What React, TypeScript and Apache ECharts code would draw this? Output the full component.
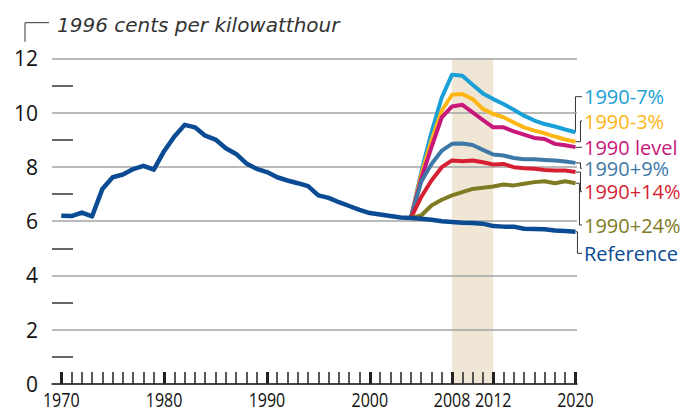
import React, { useEffect, useRef } from "react";
import * as echarts from "echarts";

// ---------- data ----------
const REF_YEARS = Array.from({ length: 51 }, (_, i) => 1970 + i);
const SCEN_YEARS = [2004, 2005, 2006, 2007, 2008, 2009, 2010, 2011, 2012, 2013, 2014, 2015, 2016, 2017, 2018, 2019, 2020];
const LABEL_YEARS = [1970, 1980, 1990, 2000, 2008, 2012, 2020];
const MINOR_Y = [1, 3, 5, 7, 9, 11];

const reference = [
  6.2, 6.19, 6.32, 6.18, 7.19, 7.62, 7.72, 7.92, 8.04, 7.9,
  8.58, 9.12, 9.55, 9.46, 9.15, 9.01, 8.69, 8.48, 8.13, 7.93,
  7.81, 7.62, 7.5, 7.4, 7.29, 6.95, 6.86, 6.7, 6.56, 6.42,
  6.3, 6.25, 6.19, 6.14, 6.12, 6.09, 6.05, 6.0, 5.97, 5.94,
  5.93, 5.91, 5.82, 5.8, 5.8, 5.72, 5.71, 5.7, 5.66, 5.64, 5.61,
];
const minus7 = [6.12, 7.8, 9.28, 10.56, 11.4, 11.36, 11.03, 10.71, 10.5, 10.32, 10.11, 9.89, 9.71, 9.58, 9.49, 9.38, 9.28];
const minus3 = [6.12, 7.7, 8.97, 10.07, 10.66, 10.69, 10.5, 10.14, 9.95, 9.83, 9.64, 9.46, 9.34, 9.24, 9.12, 9.01, 8.93];
const level = [6.12, 7.56, 8.73, 9.83, 10.23, 10.29, 10.01, 9.73, 9.46, 9.46, 9.31, 9.19, 9.07, 9.03, 8.85, 8.8, 8.73];
const plus9 = [6.12, 7.45, 8.11, 8.6, 8.85, 8.86, 8.81, 8.63, 8.46, 8.42, 8.33, 8.28, 8.28, 8.26, 8.24, 8.2, 8.15];
const plus14 = [6.12, 6.89, 7.5, 7.99, 8.24, 8.21, 8.24, 8.17, 8.09, 8.11, 7.99, 7.95, 7.93, 7.89, 7.87, 7.87, 7.81];
const plus24 = [6.12, 6.21, 6.58, 6.79, 6.95, 7.07, 7.19, 7.23, 7.28, 7.35, 7.32, 7.38, 7.44, 7.47, 7.4, 7.47, 7.4];

const SERIES_NAMES = ["1990-7%", "1990-3%", "1990 level", "1990+9%", "1990+14%", "1990+24%", "Reference"];
const SERIES_VALUES = [minus7, minus3, level, plus9, plus14, plus24, reference];
const SERIES_COLORS = ["#1A9FD7", "#FDB614", "#C8177A", "#3E78A6", "#D61F33", "#7E7B23", "#0A4B93"];

// label layout (pixels): label centre y, bracket x offset from line end
const LABEL_Y = [96.7, 121, 147.3, 168.3, 191.7, 225, 253.3];
const BRACKET_DX = [0, 5, 0, 5, 5, 4, 2];
const LABEL_X = 584;
const FONT = "'Open Sans', sans-serif";

export default function App() {
  const ref = useRef<HTMLDivElement>(null);
  useEffect(() => {
    if (!ref.current) return;
    const chart = echarts.init(ref.current, null, { renderer: "svg" });
    const xCommon = { type: "value", min: 1969.1, max: 2020.15, position: "bottom", splitLine: { show: false } };
    const series: any[] = [
      {
        type: "line",
        data: [],
        z: 1,
        silent: true,
        markArea: {
          silent: true,
          itemStyle: { color: "#EFE6D6" },
          data: [[{ xAxis: 2008 }, { xAxis: 2012 }]],
        },
      },
    ];
    SERIES_VALUES.forEach((vals, k) => {
      const years = k === 6 ? REF_YEARS : SCEN_YEARS;
      series.push({
        type: "line",
        name: SERIES_NAMES[k],
        data: vals.map((v, i) => [years[i], v]),
        symbol: "none",
        z: k === 6 ? 4 : 3,
        lineStyle: { color: SERIES_COLORS[k], width: k === 6 ? 4.5 : 4, join: "round" },
      });
    });
    chart.setOption({
      animation: false,
      grid: { left: 52, right: 111, top: 58.4, bottom: 27 },
      xAxis: [
        {
          ...xCommon,
          z: 5,
          axisLine: { show: true, lineStyle: { color: "#222", width: 1.5 } },
          axisTick: { show: true, inside: true, length: 12, customValues: REF_YEARS, lineStyle: { color: "#222", width: 1.5 } },
          axisLabel: { show: false },
        },
        {
          ...xCommon,
          z: 5,
          axisLine: { show: false },
          axisTick: { show: true, inside: true, length: 12, customValues: LABEL_YEARS, lineStyle: { color: "#222", width: 3 } },
          axisLabel: { show: false },
        },
      ],
      yAxis: [
        {
          type: "value", min: 0, max: 12, interval: 2, z: 2,
          axisLine: { show: false }, axisTick: { show: false },
          axisLabel: { fontSize: 21, color: "#111", margin: 14, fontFamily: FONT },
          splitLine: { show: true, lineStyle: { color: "#A3A3A3", width: 1.5 } },
        },
        {
          type: "value", min: 0, max: 12, position: "left", z: 2,
          axisLine: { show: false },
          axisTick: { show: true, inside: true, length: 21, customValues: MINOR_Y, lineStyle: { color: "#333", width: 1.5 } },
          axisLabel: { show: false }, splitLine: { show: false },
        },
      ],
      series,
    });

    const graphics: any[] = [
      { type: "polyline", shape: { points: [[25, 41.7], [25, 22.7], [49, 22.7]] }, style: { stroke: "#333", lineWidth: 1, fill: null } },
      { type: "text", x: 57, y: 25, style: { text: "1996 cents per kilowatthour", font: "italic 20px 'DejaVu Sans', sans-serif", fill: "#333", verticalAlign: "middle" } },
    ];
    // x-axis tick labels (narrow digits), placed through the axis scale
    LABEL_YEARS.forEach((yr) => {
      const p = chart.convertToPixel({ gridIndex: 0 }, [yr, 0]) as number[];
      graphics.push({
        type: "text", x: p[0], y: p[1] + 15, scaleX: 0.8,
        style: { text: String(yr), font: `20px ${FONT}`, lineHeight: 16, fill: "#111", align: "center", verticalAlign: "middle" },
      });
    });
    SERIES_VALUES.forEach((vals, k) => {
      const years = k === 6 ? REF_YEARS : SCEN_YEARS;
      const p = chart.convertToPixel({ gridIndex: 0 }, [years[years.length - 1], vals[vals.length - 1]]) as number[];
      const bx = p[0] + BRACKET_DX[k];
      const ly = LABEL_Y[k];
      graphics.push({
        type: "polyline",
        shape: { points: [[p[0], p[1]], [bx, p[1]], [bx, ly], [LABEL_X - 2, ly]] },
        style: { stroke: "#333", lineWidth: 1, fill: null },
      });
      graphics.push({
        type: "text", x: LABEL_X, y: ly,
        style: { text: SERIES_NAMES[k], font: `20px ${FONT}`, lineHeight: 18, fill: SERIES_COLORS[k], verticalAlign: "middle" },
      });
    });
    chart.setOption({ graphic: graphics });
    return () => chart.dispose();
  }, []);
  return <div ref={ref} style={{ width: 688, height: 411, position: "absolute", left: 0, top: 0 }} />;
}
